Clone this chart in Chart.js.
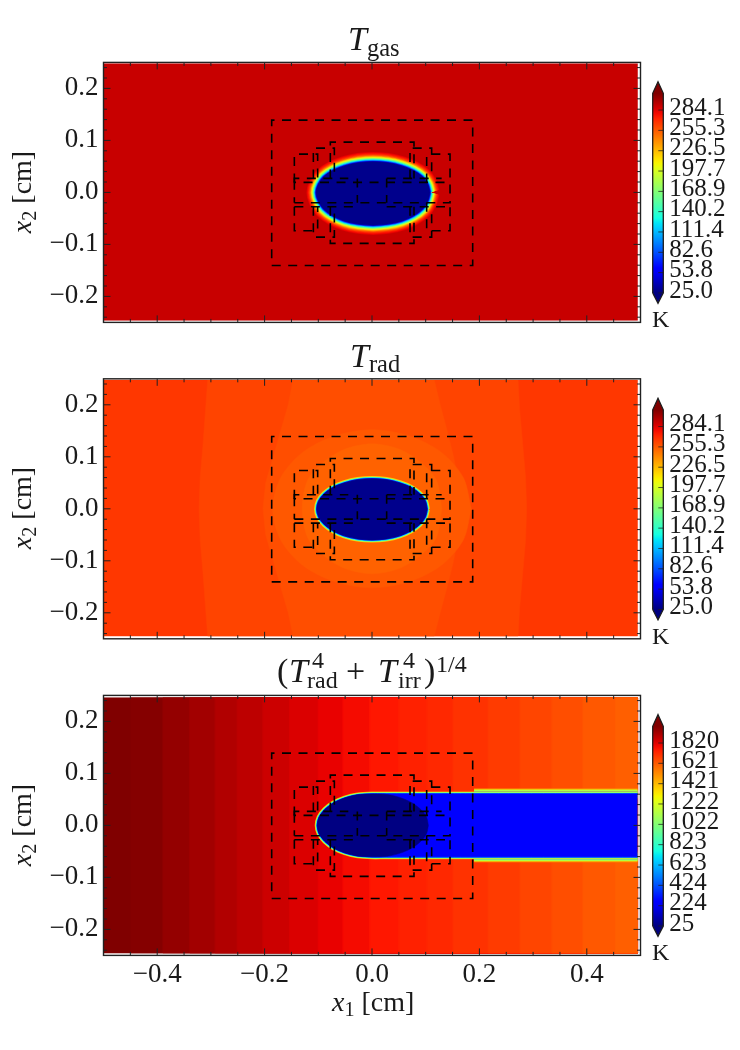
<!DOCTYPE html>
<html>
<head>
<meta charset="utf-8">
<script src="https://cdn.jsdelivr.net/npm/chart.js@4"></script>
<style>
  html, body { margin: 0; background: #fff; }
  canvas { position: absolute; top: 0; }
  .lbl { position: absolute; font-family: "Liberation Serif", serif; color: #1a1a1a; white-space: nowrap; line-height: 1; }
  .lbl i { font-style: italic; }
  .sub { font-size: 0.72em; position: relative; top: 0.24em; }
  .lbl span.at { position: absolute; }
  .small { font-size: 24px; }
</style>
</head>
<body>
<canvas id="p1" width="650" height="1050" style="left:0"></canvas>
<canvas id="p2" width="650" height="1050" style="left:0"></canvas>
<canvas id="p3" width="650" height="1050" style="left:0"></canvas>
<canvas id="c1" width="100" height="1050" style="left:640px"></canvas>
<canvas id="c2" width="100" height="1050" style="left:640px"></canvas>
<canvas id="c3" width="100" height="1050" style="left:640px"></canvas>

<div class="lbl" style="left:348px;top:22px;font-size:34px"><i>T</i><span class="sub">gas</span></div>
<div class="lbl" style="left:350px;top:338.5px;font-size:34px"><i>T</i><span class="sub">rad</span></div>
<div class="lbl" style="left:0;top:0;font-size:34px">
  <span class="at" style="left:277px;top:654px">(</span>
  <span class="at" style="left:289px;top:654px"><i>T</i></span>
  <span class="at small" style="left:312px;top:648px">4</span>
  <span class="at small" style="left:307px;top:668px">rad</span>
  <span class="at" style="left:346px;top:654px">+</span>
  <span class="at" style="left:378px;top:654px"><i>T</i></span>
  <span class="at small" style="left:403px;top:648px">4</span>
  <span class="at small" style="left:398px;top:668px">irr</span>
  <span class="at" style="left:424px;top:654px">)</span>
  <span class="at small" style="left:436px;top:652px">1/4</span>
</div>
<div class="lbl" style="left:332px;top:988px;font-size:28px"><i>x</i><span class="sub">1</span> [cm]</div>
<div class="lbl" style="left:22px;top:192px;font-size:28px;transform:translate(-50%,-50%) rotate(-90deg)"><i>x</i><span class="sub">2</span> [cm]</div>
<div class="lbl" style="left:22px;top:508px;font-size:28px;transform:translate(-50%,-50%) rotate(-90deg)"><i>x</i><span class="sub">2</span> [cm]</div>
<div class="lbl" style="left:22px;top:825px;font-size:28px;transform:translate(-50%,-50%) rotate(-90deg)"><i>x</i><span class="sub">2</span> [cm]</div>
<div class="lbl" style="left:652px;top:307px;font-size:24px">K</div>
<div class="lbl" style="left:652px;top:623.5px;font-size:24px">K</div>
<div class="lbl" style="left:652px;top:940px;font-size:24px">K</div>

<script>
// axis ticks
const xMajor = [-0.4, -0.2, 0, 0.2, 0.4];
const xMinor = [-0.45, -0.35, -0.3, -0.25, -0.15, -0.1, -0.05, 0.05, 0.1, 0.15, 0.25, 0.3, 0.35, 0.45];
const yMajor = [-0.2, -0.1, 0, 0.1, 0.2];
const yMinor = [-0.24, -0.22, -0.18, -0.16, -0.14, -0.12, -0.08, -0.06, -0.04, -0.02, 0.02, 0.04, 0.06, 0.08, 0.12, 0.14, 0.16, 0.18, 0.22, 0.24];

// colorbars: tick values and range of the colour map
const cbTicks1 = [25.0, 53.8, 82.6, 111.4, 140.2, 168.9, 197.7, 226.5, 255.3, 284.1];
const cbTicks3 = [25, 224, 424, 623, 823, 1022, 1222, 1421, 1621, 1820];
const cbRange1 = [25, 307.8];
const cbRange3 = [25, 1984];
const cbTips1 = [10.4, 324.2];
const cbTips3 = [-76, 2098];
const cbAxis1 = [3.7, 329.5];
const cbAxis3 = [-122, 2134];

// dashed refinement patches, same in every panel
const patchX = [
  [-0.1868, 0.1875, 0.1875, -0.1868, -0.1868],
  [-0.1446, -0.1446, -0.1012, -0.1012],
  [-0.1092, -0.1092, -0.0701, -0.0701],
  [-0.0776, -0.0776, 0.0782, 0.0782],
  [0.0708, 0.0708, 0.1111, 0.1111],
  [0.1018, 0.1018, 0.1453, 0.1453],
  [-0.1446, 0.1453, 0.1453, -0.1446, -0.1446],
  [-0.0273, -0.0273],
  [0.0273, 0.0273],
  [-0.1446, -0.1446, -0.0441],
  [0.0273, 0.1297],
  [-0.1446, -0.0348],
  [0.0273, 0.1359],
  [-0.1446, -0.1446, -0.1012, -0.1012],
  [-0.1092, -0.1092, -0.0701, -0.0701],
  [-0.0776, -0.0776, 0.0782, 0.0782],
  [0.0708, 0.0708, 0.1111, 0.1111],
  [0.1018, 0.1018, 0.1453, 0.1453]
];
const patchY = [
  [-0.1405, -0.1405, 0.139, 0.139, -0.1405],
  [0.0192, 0.0737, 0.0737, 0.0269],
  [0.0269, 0.0852, 0.0852, 0.0269],
  [0.0269, 0.0967, 0.0967, 0.0269],
  [0.0269, 0.0852, 0.0852, 0.0269],
  [0.0192, 0.0737, 0.0737, 0.0192],
  [-0.0199, -0.0199, 0.0192, 0.0192, -0.0199],
  [0.0269, -0.0199],
  [0.0269, -0.0199],
  [0.0192, 0.0269, 0.0269],
  [0.0269, 0.0269],
  [-0.0276, -0.0276],
  [-0.0276, -0.0276],
  [-0.0276, -0.0738, -0.0738, -0.0276],
  [-0.0276, -0.086, -0.086, -0.0276],
  [-0.0276, -0.0981, -0.0981, -0.0276],
  [-0.0276, -0.086, -0.086, -0.0276],
  [-0.0199, -0.0738, -0.0738, -0.0199]
];

// Tgas
const imageX = [-0.5, 0.4945];
const imageY1 = [-0.246, 0.2475];
const gasBackground = 290;
const gasRim = [283, 279, 274, 266, 255, 240, 222, 200, 175, 150, 120, 85, 50];
const gasCore = 28;
const gasEllipseX = [0.108, 0.104, 0.094, 0.077, 0.055, 0.029, 0.002, -0.025, -0.051, -0.073, -0.09, -0.1, -0.104, -0.1, -0.09, -0.073, -0.051, -0.025, 0.002, 0.029, 0.055, 0.077, 0.094, 0.104, 0.108];
const gasEllipseY = [0, 0.015, 0.03, 0.042, 0.051, 0.057, 0.059, 0.057, 0.051, 0.042, 0.03, 0.015, 0, -0.016, -0.032, -0.045, -0.055, -0.061, -0.063, -0.061, -0.055, -0.045, -0.032, -0.016, 0];

// Trad
const imageY2 = [-0.2445, 0.2475];
const radOuter = 266;
const radMidX = [-0.306, -0.31, -0.315, -0.32, -0.322, -0.32, -0.315, -0.31, -0.306, 0.272, 0.275, 0.281, 0.286, 0.288, 0.286, 0.281, 0.275, 0.272];
const radMidY = [0.2475, 0.19, 0.12, 0.06, 0, -0.06, -0.12, -0.19, -0.2445, -0.2445, -0.19, -0.12, -0.06, 0, 0.06, 0.12, 0.19, 0.2475];
const radMid = 262;
const radInnerX = [-0.147, -0.156, -0.17, -0.184, -0.198, -0.203, -0.198, -0.184, -0.17, -0.156, -0.147, 0.116, 0.127, 0.14, 0.152, 0.161, 0.164, 0.161, 0.152, 0.14, 0.127, 0.116];
const radInnerY = [0.2475, 0.2, 0.15, 0.1, 0.05, 0, -0.05, -0.1, -0.15, -0.2, -0.2445, -0.2445, -0.2, -0.15, -0.1, -0.05, 0, 0.05, 0.1, 0.15, 0.2, 0.2475];
const radInner = 259;
const radHaloX = [0.185, 0.17, 0.13, 0.07, 0, -0.07, -0.13, -0.17, -0.185, -0.17, -0.13, -0.07, 0, 0.07, 0.13, 0.17, 0.185];
const radHaloY = [0, 0.06, 0.108, 0.14, 0.152, 0.14, 0.108, 0.06, 0, -0.06, -0.108, -0.14, -0.152, -0.14, -0.108, -0.06, 0];
const radHalo = 256;
const radCoreHaloX = [0.13, 0.12, 0.09, 0.05, 0, -0.05, -0.09, -0.12, -0.13, -0.12, -0.09, -0.05, 0, 0.05, 0.09, 0.12, 0.13];
const radCoreHaloY = [0, 0.055, 0.09, 0.115, 0.125, 0.115, 0.09, 0.055, 0, -0.055, -0.09, -0.115, -0.125, -0.115, -0.09, -0.055, 0];
const radCoreHalo = 253;
const radRim = [220, 170, 120, 70];
const radCore = 28;
const radEllipseX = [0.103, 0.0995, 0.089, 0.073, 0.0515, 0.027, 0, -0.027, -0.0515, -0.073, -0.089, -0.0995, -0.103, -0.0995, -0.089, -0.073, -0.0515, -0.027, 0, 0.027, 0.0515, 0.073, 0.089, 0.0995, 0.103];
const radEllipseY = [-0.001, 0.015, 0.029, 0.041, 0.05, 0.056, 0.058, 0.056, 0.05, 0.041, 0.029, 0.015, -0.001, -0.0155, -0.03, -0.042, -0.052, -0.058, -0.06, -0.058, -0.052, -0.042, -0.03, -0.0155, -0.001];

// (Trad^4 + Tirr^4)^(1/4)
const imageY3 = [-0.2455, 0.2455];
const irrEdges = [-0.5, -0.449, -0.389, -0.339, -0.292, -0.251, -0.203, -0.153, -0.1, -0.054, -0.004, 0.05, 0.102, 0.151, 0.216, 0.276, 0.335, 0.393, 0.453];
const irrBands = [1984, 1975, 1950, 1925, 1900, 1880, 1855, 1830, 1805, 1785, 1760, 1740, 1725, 1705, 1685, 1665, 1645, 1625, 1610];
const irrRim = [1494, 1200, 907, 613, 319];
const irrSlab = 240;
const irrCore = 30;
const slabX = [0.4945, 0.19, 0.02, 0, -0.027, -0.051, -0.072, -0.088, -0.0985, -0.102, -0.0985, -0.088, -0.072, -0.051, -0.027, 0, 0.02, 0.19, 0.4945];
const slabY = [0.0605, 0.0605, 0.0605, 0.0605, 0.0585, 0.0525, 0.043, 0.0305, 0.016, 0, -0.016, -0.0305, -0.043, -0.0525, -0.0585, -0.0605, -0.0605, -0.0605, -0.0605];
const wakeX = [0.19, 0.4945];
const wakeTopY = [0.0605, 0.0605];
const wakeBottomY = [-0.0605, -0.0605];
const irrEllipseX = [0.105, 0.1015, 0.091, 0.0745, 0.053, 0.028, 0.0015, -0.025, -0.05, -0.0715, -0.088, -0.0985, -0.102, -0.0985, -0.088, -0.0715, -0.05, -0.025, 0.0015, 0.028, 0.053, 0.0745, 0.091, 0.1015, 0.105];
const irrEllipseY = [0, 0.016, 0.0305, 0.0435, 0.0533, 0.0594, 0.0605, 0.0594, 0.0533, 0.0435, 0.0305, 0.016, 0, -0.016, -0.0305, -0.0435, -0.0533, -0.0594, -0.0605, -0.0594, -0.0533, -0.0435, -0.0305, -0.016, 0];

const FONT = '"Liberation Serif", serif';
const INK = '#1a1a1a';

// matplotlib jet segments
const jetR = [[0, 0], [0.35, 0], [0.66, 1], [0.89, 1], [1, 0.5]];
const jetG = [[0, 0], [0.125, 0], [0.375, 1], [0.64, 1], [0.91, 0], [1, 0]];
const jetB = [[0, 0.5], [0.11, 1], [0.34, 1], [0.65, 0], [1, 0]];

function seg(table, t) {
  for (let i = 1; i < table.length; i++) {
    if (t <= table[i][0]) {
      const a = table[i - 1], b = table[i];
      return a[1] + (b[1] - a[1]) * (t - a[0]) / (b[0] - a[0]);
    }
  }
  return table[table.length - 1][1];
}

function jet(t) {
  t = Math.min(1, Math.max(0, t));
  return 'rgb(' + Math.round(seg(jetR, t) * 255) + ',' + Math.round(seg(jetG, t) * 255) + ',' + Math.round(seg(jetB, t) * 255) + ')';
}

function tempColour(v, range) {
  return jet((v - range[0]) / (range[1] - range[0]));
}

function points(xs, ys) {
  return xs.map((x, i) => ({x: x, y: ys[i]}));
}

function rect(xs, ys) {
  return points([xs[0], xs[1], xs[1], xs[0], xs[0]], [ys[0], ys[0], ys[1], ys[1], ys[0]]);
}

function area(data, colour, tension) {
  return {data: data, showLine: true, fill: 'shape', backgroundColor: colour, borderColor: colour, borderWidth: 0.5, pointRadius: 0, tension: tension || 0, clip: 0};
}

function stroke(data, colour, width, tension) {
  return {data: data, showLine: true, fill: false, borderColor: colour, borderWidth: width, pointRadius: 0, tension: tension || 0, clip: 0};
}

// halo levels of a rim: widest first, core polygon painted afterwards hides the inner half
function rim(data, temps, range, step, tension) {
  return temps.map((v, i) => stroke(data, tempColour(v, range), 2 * step * (temps.length - i), tension));
}

function boxes() {
  return patchX.map((xs, i) => {
    const d = stroke(points(xs, patchY[i]), '#000', 1.6);
    d.borderDash = [9, 7.5];
    return d;
  });
}

const minus = s => s.replace('-', '\u2212');

const frameTicks = {
  id: 'frameTicks',
  afterDatasetsDraw(chart) {
    const {ctx, chartArea: a, scales: {x, y}} = chart;
    ctx.save();
    ctx.strokeStyle = '#222';
    ctx.lineWidth = 1;
    ctx.beginPath();
    const tx = (v, len) => {
      const p = x.getPixelForValue(v);
      ctx.moveTo(p, a.top); ctx.lineTo(p, a.top + len);
      ctx.moveTo(p, a.bottom); ctx.lineTo(p, a.bottom - len);
    };
    const ty = (v, len) => {
      const p = y.getPixelForValue(v);
      ctx.moveTo(a.left, p); ctx.lineTo(a.left + len, p);
      ctx.moveTo(a.right, p); ctx.lineTo(a.right - len, p);
    };
    xMajor.forEach(v => tx(v, 7));
    xMinor.forEach(v => tx(v, 3.5));
    yMajor.forEach(v => ty(v, 7));
    yMinor.forEach(v => ty(v, 3.5));
    ctx.stroke();
    ctx.lineWidth = 1.4;
    ctx.strokeRect(a.left, a.top, a.right - a.left, a.bottom - a.top);
    ctx.restore();
  }
};

function panel(id, top, showX, datasets) {
  return new Chart(document.getElementById(id), {
    type: 'scatter',
    data: {datasets: datasets.concat(boxes()).reverse()},
    options: {
      responsive: false,
      animation: false,
      devicePixelRatio: 1,
      layout: {padding: {left: 0, right: 9.5, top: top, bottom: 1050 - top - 260 - 40}},
      plugins: {legend: {display: false}, tooltip: {enabled: false}},
      scales: {
        x: {
          type: 'linear', min: -0.5, max: 0.5,
          afterBuildTicks: s => { s.ticks = xMajor.map(v => ({value: v})); },
          afterFit: s => { s.height = 40; },
          grid: {display: false, drawTicks: false}, border: {display: false},
          ticks: {
            autoSkip: false, maxRotation: 0, padding: 3, color: INK,
            font: {family: FONT, size: 27},
            callback: v => showX ? minus(v.toFixed(1)) : ''
          }
        },
        y: {
          type: 'linear', min: -0.25, max: 0.25,
          afterBuildTicks: s => { s.ticks = yMajor.map(v => ({value: v})); },
          afterFit: s => { s.width = 103.5; },
          grid: {display: false, drawTicks: false}, border: {display: false},
          ticks: {
            autoSkip: false, padding: 5, color: INK,
            font: {family: FONT, size: 27},
            callback: v => minus(v.toFixed(1))
          }
        }
      }
    },
    plugins: [frameTicks]
  });
}

const cbarTicks = {
  id: 'cbarTicks',
  afterDatasetsDraw(chart) {
    const {ctx, chartArea: a, scales: {y}} = chart;
    ctx.save();
    ctx.strokeStyle = 'rgba(30,30,30,0.75)';
    ctx.lineWidth = 1;
    ctx.beginPath();
    y.ticks.forEach(t => {
      const p = y.getPixelForValue(t.value);
      ctx.moveTo(a.right - 5, p);
      ctx.lineTo(a.right, p);
    });
    ctx.stroke();
    ctx.restore();
  }
};

function colorbar(id, top, ticks, range, tips, axis, digits) {
  const outlineX = [0, 0, 0.5, 1, 1, 0.5, 0];
  const outlineY = [range[0], range[1], tips[1], range[1], range[0], tips[0], range[0]];
  const gradient = c => {
    const y = c.chart.scales.y;
    const y0 = y ? y.getPixelForValue(range[0]) : NaN;
    const y1 = y ? y.getPixelForValue(range[1]) : NaN;
    if (!isFinite(y0) || !isFinite(y1)) return '#000';
    const g = c.chart.ctx.createLinearGradient(0, y0, 0, y1);
    for (let i = 0; i <= 40; i++) g.addColorStop(i / 40, jet(i / 40));
    return g;
  };
  const chart = new Chart(document.getElementById(id), {
    type: 'scatter',
    data: {datasets: [{
      data: points(outlineX, outlineY), showLine: true, fill: 'shape',
      backgroundColor: gradient, borderColor: '#1c1c1c', borderWidth: 1.3, pointRadius: 0, clip: false
    }]},
    options: {
      responsive: false,
      animation: false,
      devicePixelRatio: 1,
      layout: {padding: {left: 12.7, right: 2.7, top: top, bottom: 1050 - top - 230 - 25}},
      plugins: {legend: {display: false}, tooltip: {enabled: false}},
      scales: {
        x: {
          type: 'linear', min: 0, max: 1,
          afterFit: s => { s.height = 25; },
          grid: {display: false, drawTicks: false}, border: {display: false},
          ticks: {display: false}
        },
        y: {
          type: 'linear', position: 'right', min: axis[0], max: axis[1],
          afterBuildTicks: s => { s.ticks = ticks.map(v => ({value: v})); },
          afterFit: s => { s.width = 74; },
          grid: {display: false, drawTicks: false}, border: {display: false},
          ticks: {
            autoSkip: false, padding: 6, labelOffset: -2, color: INK,
            font: {family: FONT, size: 25},
            callback: v => v.toFixed(digits)
          }
        }
      }
    },
    plugins: [cbarTicks]
  });
  chart.update('none');
  return chart;
}

const r1 = cbRange1, r3 = cbRange3;

const gasOutline = points(gasEllipseX, gasEllipseY);
panel('p1', 62.4, false, [
  area(rect(imageX, imageY1), tempColour(gasBackground, r1))
].concat(
  rim(gasOutline, gasRim, r1, 0.75, 0.3),
  [area(gasOutline, tempColour(gasCore, r1), 0.3)]
));

const radOutline = points(radEllipseX, radEllipseY);
panel('p2', 378.8, false, [
  area(rect(imageX, imageY2), tempColour(radOuter, r1)),
  area(points(radMidX, radMidY), tempColour(radMid, r1)),
  area(points(radInnerX, radInnerY), tempColour(radInner, r1)),
  area(points(radHaloX, radHaloY), tempColour(radHalo, r1), 0.3),
  area(points(radCoreHaloX, radCoreHaloY), tempColour(radCoreHalo, r1), 0.3)
].concat(
  rim(radOutline, radRim, r1, 0.65, 0.3),
  [area(radOutline, tempColour(radCore, r1), 0.3)]
));

const slabOutline = points(slabX, slabY);
panel('p3', 695.4, true, irrEdges.map((e, i) =>
  area(rect([e, imageX[1]], imageY3), tempColour(irrBands[i], r3))
).concat(
  rim(points(wakeX, wakeTopY), irrRim, r3, 1.1),
  rim(points(wakeX, wakeBottomY), irrRim, r3, 1.1),
  rim(slabOutline, irrRim, r3, 0.5, 0.2),
  [area(slabOutline, tempColour(irrSlab, r3), 0.2),
   area(points(irrEllipseX, irrEllipseY), tempColour(irrCore, r3), 0.3)]
));

colorbar('c1', 78, cbTicks1, cbRange1, cbTips1, cbAxis1, 1);
colorbar('c2', 394.5, cbTicks1, cbRange1, cbTips1, cbAxis1, 1);
colorbar('c3', 711, cbTicks3, cbRange3, cbTips3, cbAxis3, 0);
</script>
</body>
</html>
